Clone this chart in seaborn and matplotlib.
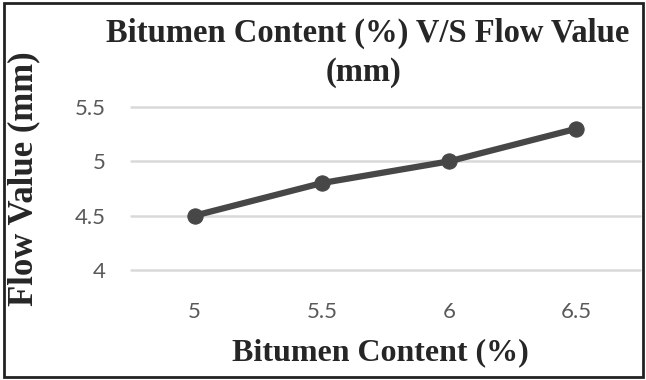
import matplotlib
matplotlib.use("Agg")
import matplotlib.pyplot as plt
import seaborn as sns
import pandas as pd
from matplotlib.patches import Rectangle

# Marshall test results
bitumen_content = [5.0, 5.5, 6.0, 6.5]
flow_value = [4.5, 4.8, 5.0, 5.3]
x_tick_labels = ["5", "5.5", "6", "6.5"]
y_ticks = [4.0, 4.5, 5.0, 5.5]
y_tick_labels = ["4", "4.5", "5", "5.5"]

df = pd.DataFrame({"Bitumen Content (%)": bitumen_content,
                   "Flow Value (mm)": flow_value})

sns.set_style("white")
plt.rcParams["font.family"] = ["Liberation Serif", "DejaVu Serif"]

fig = plt.figure(figsize=(6.46, 3.8), dpi=100)
ax = fig.add_axes([131 / 646, 110 / 380, 509 / 646, 163 / 380])

line_color = "#474747"
sns.lineplot(data=df, x="Bitumen Content (%)", y="Flow Value (mm)", ax=ax,
             color=line_color, linewidth=4.5, marker="o", markersize=11,
             markeredgecolor=line_color, zorder=3)

# category-style spacing: half a step of padding on each side
ax.set_xlim(4.75, 6.75)
ax.set_ylim(4.0, 5.5)
ax.set_xticks(bitumen_content)
ax.set_xticklabels(x_tick_labels)
ax.set_yticks(y_ticks)
ax.set_yticklabels(y_tick_labels)

ax.grid(axis="y", color="#d9d9d9", linewidth=1.8)
ax.grid(axis="x", visible=False)
for gl in ax.get_ygridlines():
    gl.set_clip_on(False)
for s in ax.spines.values():
    s.set_visible(False)

ax.tick_params(axis="both", length=0, labelcolor="#595959", labelsize=16)
ax.tick_params(axis="x", pad=23)
ax.tick_params(axis="y", pad=18)
for lbl in ax.get_xticklabels() + ax.get_yticklabels():
    lbl.set_fontfamily(["Lato", "DejaVu Sans"])

ax.set_xlabel("")
ax.set_ylabel("")

title_color = "#262626"
fig.text(368 / 646, 1 - 33 / 380, "Bitumen Content (%) V/S Flow Value",
         ha="center", va="center", fontsize=23.5, fontweight="bold", color=title_color)
fig.text(363 / 646, 1 - 73 / 380, "(mm)",
         ha="center", va="center", fontsize=23.5, fontweight="bold", color=title_color)
fig.text(380 / 646, 1 - 353 / 380, "Bitumen Content (%)",
         ha="center", va="center", fontsize=23, fontweight="bold", color=title_color)
fig.text(24 / 646, 1 - 179 / 380, "Flow Value (mm)", rotation=90,
         ha="center", va="center", fontsize=25, fontweight="bold", color=title_color)

# Frame around the chart
fig.patches.append(Rectangle((4 / 646, 3 / 380), 639 / 646, 374 / 380,
                             transform=fig.transFigure, fill=False,
                             edgecolor="#222222", linewidth=2))

fig.savefig("out.png", dpi=100)
